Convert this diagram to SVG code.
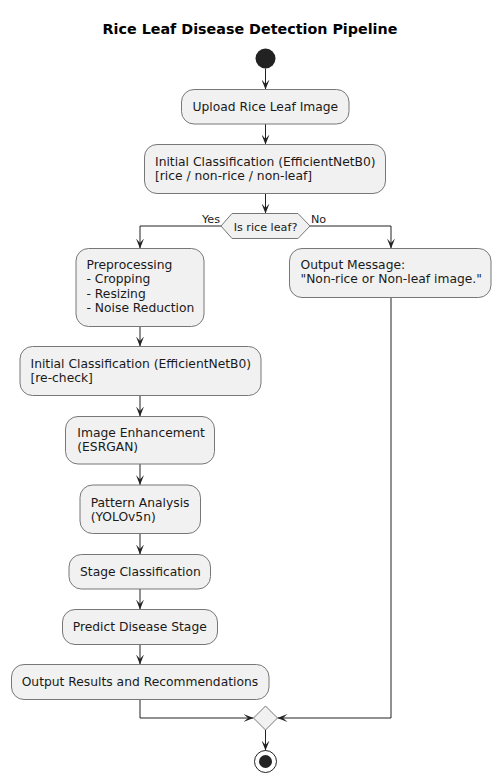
<svg xmlns="http://www.w3.org/2000/svg" width="501" height="783" viewBox="0 0 501 783">
<style>
.bg{fill:#ffffff}
.box{fill:#F1F1F1;stroke:#777777;stroke-width:1}
.t{font-family:"DejaVu Sans","Liberation Sans",sans-serif;font-size:12.3px;fill:#1a1a1a}
.s{font-family:"DejaVu Sans","Liberation Sans",sans-serif;font-size:11.2px;fill:#1a1a1a}
.title{font-family:"DejaVu Sans","Liberation Sans",sans-serif;font-size:14.3px;font-weight:bold;fill:#000}
.ca{fill:none;stroke:#222222;stroke-width:1;marker-end:url(#ah)}
</style>
<defs>
<marker id="ah" viewBox="0 0 10 8" refX="10" refY="4" markerWidth="10" markerHeight="8" markerUnits="userSpaceOnUse" orient="auto">
<path d="M0,0 L10,4 L0,8 L4.5,4 Z" fill="#222222"/>
</marker>
</defs>
<rect class="bg" x="0" y="0" width="501" height="783"/>
<text class="title" x="250" y="34" text-anchor="middle">Rice Leaf Disease Detection Pipeline</text>

<g id="connectors">
<path class="ca" d="M265.5,68.5 V89.5"/>
<path class="ca" d="M265.5,124 V144.5"/>
<path class="ca" d="M265.5,193.5 V213.5"/>
<path class="ca" d="M221,226 H140 V248.5"/>
<path class="ca" d="M310,226 H391 V248.5"/>
<path class="ca" d="M140,326.5 V346.5"/>
<path class="ca" d="M140,395.5 V416.5"/>
<path class="ca" d="M140,464 V485"/>
<path class="ca" d="M140,533.5 V554.5"/>
<path class="ca" d="M140,589 V609.5"/>
<path class="ca" d="M140,644.5 V664.5"/>
<path class="ca" d="M140,699.5 V718 H253.5"/>
<path class="ca" d="M391,297.5 V718 H277.5"/>
<path class="ca" d="M265.5,730 V750.5"/>
<text class="s" x="220" y="223" text-anchor="end">Yes</text>
<text class="s" x="311" y="223">No</text>
</g>

<g id="start"><circle cx="265.5" cy="58.5" r="10" fill="#222222"/></g>

<g id="upload">
<rect class="box" x="181.5" y="89.5" width="167.5" height="34.5" rx="12.5"/>
<text class="t" x="192.5" y="110.5">Upload Rice Leaf Image</text>
</g>

<g id="initial">
<rect class="box" x="144.5" y="144.5" width="241" height="49" rx="12.5"/>
<text class="t" x="155" y="165.5">Initial Classification (EfficientNetB0)</text>
<text class="t" x="155" y="179.5">[rice / non-rice / non-leaf]</text>
</g>

<g id="decision">
<polygon class="box" points="221,226 232,213.5 298,213.5 310,226 298,238.5 232,238.5"/>
<text class="s" x="265.5" y="230.5" text-anchor="middle">Is rice leaf?</text>
</g>

<g id="preprocess">
<rect class="box" x="76" y="248.5" width="128" height="78" rx="12.5"/>
<text class="t" x="86.5" y="269">Preprocessing</text>
<text class="t" x="86.5" y="283.3">- Cropping</text>
<text class="t" x="86.5" y="297.5">- Resizing</text>
<text class="t" x="86.5" y="311.7">- Noise Reduction</text>
</g>

<g id="outmsg">
<rect class="box" x="289.5" y="248.5" width="201.5" height="49" rx="12.5"/>
<text class="t" x="300.5" y="269">Output Message:</text>
<text class="t" x="300.5" y="283.3">"Non-rice or Non-leaf image."</text>
</g>

<g id="recheck">
<rect class="box" x="20" y="346.5" width="241" height="49" rx="12.5"/>
<text class="t" x="30.5" y="367.5">Initial Classification (EfficientNetB0)</text>
<text class="t" x="30.5" y="381.7">[re-check]</text>
</g>

<g id="enhance">
<rect class="box" x="65.5" y="416.5" width="149" height="47.5" rx="12.5"/>
<text class="t" x="77.3" y="436.7">Image Enhancement</text>
<text class="t" x="77.3" y="450.7">(ESRGAN)</text>
</g>

<g id="pattern">
<rect class="box" x="80" y="485" width="120.5" height="48.5" rx="12.5"/>
<text class="t" x="90.7" y="506.7">Pattern Analysis</text>
<text class="t" x="90.7" y="520.7">(YOLOv5n)</text>
</g>

<g id="stage">
<rect class="box" x="69" y="554.5" width="141.5" height="34.5" rx="12.5"/>
<text class="t" x="80" y="576">Stage Classification</text>
</g>

<g id="predict">
<rect class="box" x="62.5" y="609.5" width="155" height="35" rx="12.5"/>
<text class="t" x="72.7" y="631">Predict Disease Stage</text>
</g>

<g id="results">
<rect class="box" x="11.5" y="664.5" width="257.5" height="35" rx="12.5"/>
<text class="t" x="21.7" y="686">Output Results and Recommendations</text>
</g>

<g id="merge">
<polygon class="box" points="253.5,718 265.5,706 277.5,718 265.5,730"/>
</g>

<g id="end">
<circle cx="265.5" cy="761.5" r="11" fill="none" stroke="#222222" stroke-width="1"/>
<circle cx="265.5" cy="761.5" r="6.5" fill="#222222"/>
</g>
</svg>
